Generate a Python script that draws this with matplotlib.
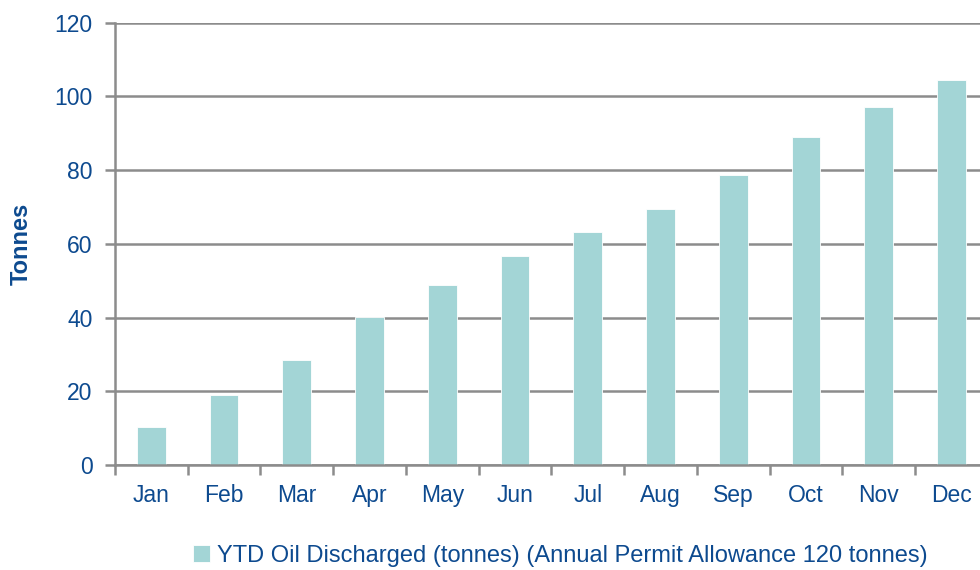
import matplotlib.pyplot as plt
import numpy as np

months = ['Jan', 'Feb', 'Mar', 'Apr', 'May', 'Jun',
          'Jul', 'Aug', 'Sep', 'Oct', 'Nov', 'Dec']
ytd_oil = [10.4, 19.1, 28.5, 40.2, 48.8, 56.7, 63.1, 69.4, 78.6, 89.0, 97.1, 104.3]
y_ticks = [0, 20, 40, 60, 80, 100, 120]

bar_color = '#a3d5d6'
text_color = '#0d4a8f'
grid_color = '#8c8c8c'

plt.rcParams['font.family'] = ['Liberation Sans', 'DejaVu Sans']

fig = plt.figure(figsize=(9.8, 5.7), dpi=100)
ax = fig.add_axes([0.1173, 0.1842, 0.8908, 0.7763])

x = np.arange(len(months))
bars = ax.bar(x, ytd_oil, width=0.395, color=bar_color, edgecolor='white',
              linewidth=0.6, zorder=3,
              label='YTD Oil Discharged (tonnes) (Annual Permit Allowance 120 tonnes)')

ax.set_xlim(-0.5, len(months) - 0.5)
ax.set_ylim(0, 120)
ax.set_yticks(y_ticks)
ax.set_xticks(x)
ax.set_xticklabels(months)
ax.set_xticks(np.arange(len(months) + 1) - 0.5, minor=True)

ax.yaxis.grid(True, color=grid_color, linewidth=1.8, zorder=0)
for s in ['top', 'right']:
    ax.spines[s].set_visible(False)
for s in ['left', 'bottom']:
    ax.spines[s].set_color(grid_color)
    ax.spines[s].set_linewidth(1.8)
    ax.spines[s].set_zorder(4)

ax.tick_params(axis='y', colors=grid_color, length=7, width=1.8,
               labelcolor=text_color, labelsize=16.5, pad=9)
ax.tick_params(axis='x', which='major', length=0, labelcolor=text_color,
               labelsize=16.5, pad=14)
ax.tick_params(axis='x', which='minor', length=7, width=1.8, colors=grid_color)

ax.set_ylabel('Tonnes', color=text_color, fontsize=17, fontweight='bold',
              labelpad=16)

fig.legend(handles=[bars], loc='center', bbox_to_anchor=(0.572, 0.025),
           frameon=False, fontsize=17, labelcolor=text_color,
           handlelength=0.7, handleheight=0.7, handletextpad=0.3)

fig.savefig('out.png', dpi=100)
